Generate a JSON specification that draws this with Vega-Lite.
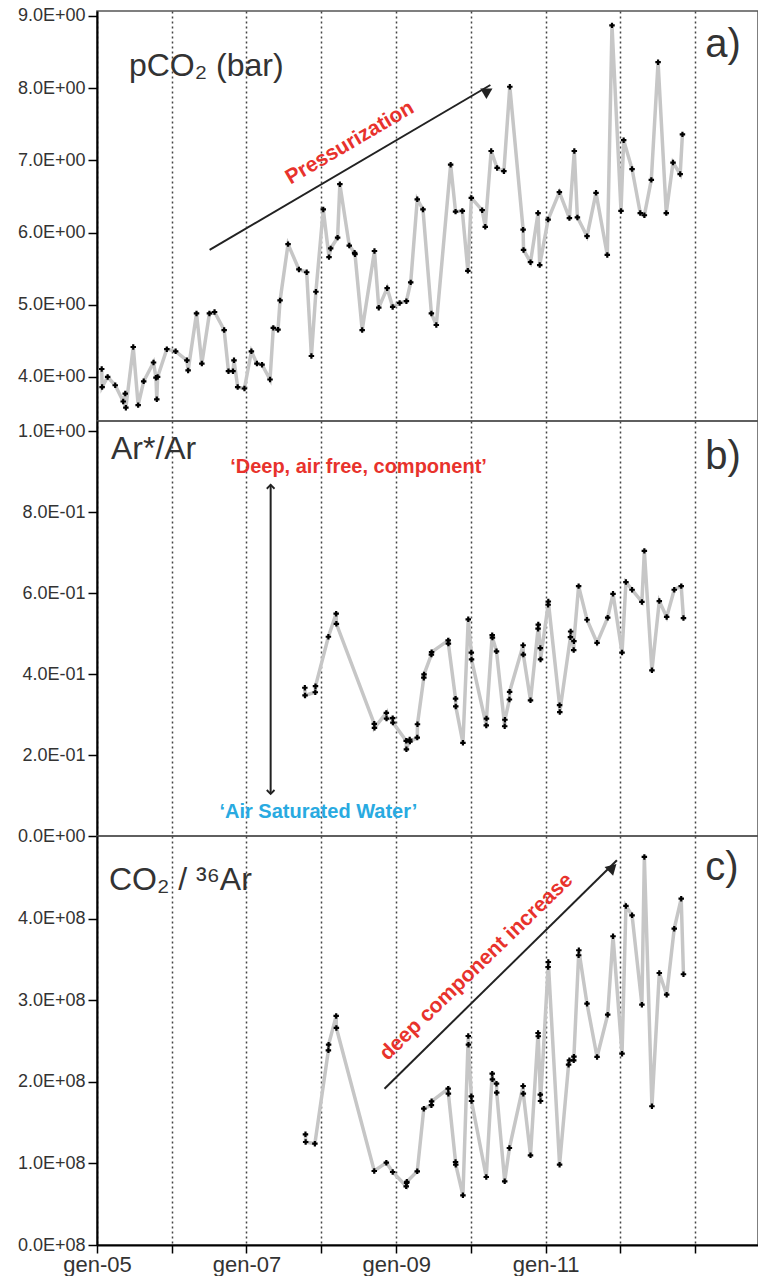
{
  "$schema": "https://vega.github.io/schema/vega-lite/v6.json",
  "padding": {"left": 16, "top": 6, "right": 0, "bottom": 0},
  "spacing": 0,
  "bounds": "flush",
  "background": "white",
  "config": {
    "font": "Liberation Sans",
    "view": {"stroke": "#555", "strokeWidth": 1.5},
    "axisY": {"domainColor": "black", "domainWidth": 2, "tickColor": "black", "tickWidth": 1.5, "tickSize": 9, "labelFontSize": 18, "labelColor": "#333", "labelPadding": 3, "grid": false, "title": null, "minExtent": 80, "maxExtent": 80},
    "axisX": {"grid": true, "gridDash": [2, 3], "gridColor": "#444", "gridWidth": 1.5, "title": null}
  },
  "datasets": {
    "pco2": [
      {"date": "2005-01-24", "value": 4.11}, {"date": "2005-01-26", "value": 3.86}, {"date": "2005-02-22", "value": 4.0}, {"date": "2005-03-31", "value": 3.885},
      {"date": "2005-05-09", "value": 3.66}, {"date": "2005-05-19", "value": 3.77}, {"date": "2005-05-22", "value": 3.575}, {"date": "2005-06-27", "value": 4.415},
      {"date": "2005-07-21", "value": 3.61}, {"date": "2005-08-17", "value": 3.94}, {"date": "2005-10-04", "value": 4.2}, {"date": "2005-10-16", "value": 3.99},
      {"date": "2005-10-20", "value": 3.69}, {"date": "2005-10-24", "value": 4.0}, {"date": "2005-12-08", "value": 4.385}, {"date": "2006-01-20", "value": 4.355},
      {"date": "2006-03-16", "value": 4.23}, {"date": "2006-03-22", "value": 4.09}, {"date": "2006-05-02", "value": 4.88}, {"date": "2006-05-28", "value": 4.185},
      {"date": "2006-07-04", "value": 4.88}, {"date": "2006-07-29", "value": 4.9}, {"date": "2006-09-14", "value": 4.65}, {"date": "2006-10-05", "value": 4.08},
      {"date": "2006-10-27", "value": 4.08}, {"date": "2006-11-01", "value": 4.23}, {"date": "2006-11-19", "value": 3.86}, {"date": "2006-12-22", "value": 3.84},
      {"date": "2007-01-25", "value": 4.355}, {"date": "2007-02-21", "value": 4.185}, {"date": "2007-03-18", "value": 4.17}, {"date": "2007-04-26", "value": 3.965},
      {"date": "2007-05-12", "value": 4.68}, {"date": "2007-06-04", "value": 4.655}, {"date": "2007-06-14", "value": 5.06}, {"date": "2007-07-23", "value": 5.84},
      {"date": "2007-09-14", "value": 5.49}, {"date": "2007-10-22", "value": 5.45}, {"date": "2007-11-14", "value": 4.29}, {"date": "2007-12-06", "value": 5.18},
      {"date": "2008-01-11", "value": 6.32}, {"date": "2008-02-08", "value": 5.66}, {"date": "2008-02-16", "value": 5.78}, {"date": "2008-03-21", "value": 5.93},
      {"date": "2008-04-01", "value": 6.67}, {"date": "2008-05-17", "value": 5.82}, {"date": "2008-06-12", "value": 5.72}, {"date": "2008-06-14", "value": 5.7},
      {"date": "2008-07-19", "value": 4.65}, {"date": "2008-09-17", "value": 5.745}, {"date": "2008-10-08", "value": 4.96}, {"date": "2008-11-18", "value": 5.23},
      {"date": "2008-12-15", "value": 4.97}, {"date": "2009-01-18", "value": 5.025}, {"date": "2009-02-20", "value": 5.05}, {"date": "2009-03-13", "value": 5.31},
      {"date": "2009-04-14", "value": 6.46}, {"date": "2009-05-12", "value": 6.32}, {"date": "2009-06-22", "value": 4.88}, {"date": "2009-07-16", "value": 4.72},
      {"date": "2009-09-24", "value": 6.94}, {"date": "2009-10-18", "value": 6.29}, {"date": "2009-11-20", "value": 6.3}, {"date": "2009-12-17", "value": 5.47},
      {"date": "2010-01-03", "value": 6.48}, {"date": "2010-02-25", "value": 6.31}, {"date": "2010-03-12", "value": 6.08}, {"date": "2010-04-10", "value": 7.13},
      {"date": "2010-05-09", "value": 6.895}, {"date": "2010-06-11", "value": 6.85}, {"date": "2010-07-10", "value": 8.02}, {"date": "2010-09-13", "value": 6.04},
      {"date": "2010-09-15", "value": 5.76}, {"date": "2010-10-19", "value": 5.59}, {"date": "2010-11-25", "value": 6.27}, {"date": "2010-12-03", "value": 5.55},
      {"date": "2011-01-13", "value": 6.18}, {"date": "2011-03-09", "value": 6.56}, {"date": "2011-04-27", "value": 6.2}, {"date": "2011-05-21", "value": 7.13},
      {"date": "2011-06-05", "value": 6.21}, {"date": "2011-07-22", "value": 5.95}, {"date": "2011-09-04", "value": 6.55}, {"date": "2011-10-29", "value": 5.69},
      {"date": "2011-11-21", "value": 8.87}, {"date": "2012-01-04", "value": 6.3}, {"date": "2012-01-17", "value": 7.28}, {"date": "2012-02-27", "value": 6.88},
      {"date": "2012-04-07", "value": 6.27}, {"date": "2012-04-27", "value": 6.24}, {"date": "2012-05-31", "value": 6.73}, {"date": "2012-07-03", "value": 8.36},
      {"date": "2012-08-12", "value": 6.27}, {"date": "2012-09-14", "value": 6.97}, {"date": "2012-10-19", "value": 6.81}, {"date": "2012-10-30", "value": 7.36}
    ],
    "arratio": [
      {"date": "2007-10-13", "value": 0.366}, {"date": "2007-10-14", "value": 0.347}, {"date": "2007-12-03", "value": 0.355}, {"date": "2007-12-04", "value": 0.37},
      {"date": "2008-02-05", "value": 0.492}, {"date": "2008-03-14", "value": 0.549}, {"date": "2008-03-15", "value": 0.524}, {"date": "2008-09-16", "value": 0.277},
      {"date": "2008-09-17", "value": 0.267}, {"date": "2008-11-14", "value": 0.304}, {"date": "2008-11-15", "value": 0.29}, {"date": "2008-12-15", "value": 0.291},
      {"date": "2008-12-16", "value": 0.28}, {"date": "2009-02-19", "value": 0.235}, {"date": "2009-02-20", "value": 0.214}, {"date": "2009-03-08", "value": 0.238},
      {"date": "2009-03-09", "value": 0.233}, {"date": "2009-04-14", "value": 0.243}, {"date": "2009-04-15", "value": 0.276}, {"date": "2009-05-16", "value": 0.391},
      {"date": "2009-05-17", "value": 0.399}, {"date": "2009-06-22", "value": 0.448}, {"date": "2009-06-23", "value": 0.454}, {"date": "2009-09-12", "value": 0.483},
      {"date": "2009-09-13", "value": 0.475}, {"date": "2009-10-18", "value": 0.339}, {"date": "2009-10-19", "value": 0.32}, {"date": "2009-11-23", "value": 0.23},
      {"date": "2009-12-19", "value": 0.535}, {"date": "2010-01-03", "value": 0.453}, {"date": "2010-01-04", "value": 0.436}, {"date": "2010-03-17", "value": 0.273},
      {"date": "2010-03-18", "value": 0.29}, {"date": "2010-04-15", "value": 0.496}, {"date": "2010-04-16", "value": 0.49}, {"date": "2010-05-06", "value": 0.456},
      {"date": "2010-06-15", "value": 0.271}, {"date": "2010-06-16", "value": 0.287}, {"date": "2010-07-08", "value": 0.337}, {"date": "2010-07-09", "value": 0.356},
      {"date": "2010-09-13", "value": 0.471}, {"date": "2010-09-14", "value": 0.448}, {"date": "2010-10-19", "value": 0.335}, {"date": "2010-11-25", "value": 0.512},
      {"date": "2010-11-26", "value": 0.522}, {"date": "2010-12-06", "value": 0.464}, {"date": "2010-12-07", "value": 0.436}, {"date": "2011-01-13", "value": 0.571},
      {"date": "2011-01-14", "value": 0.579}, {"date": "2011-03-10", "value": 0.323}, {"date": "2011-03-11", "value": 0.306}, {"date": "2011-05-02", "value": 0.491},
      {"date": "2011-05-03", "value": 0.505}, {"date": "2011-05-18", "value": 0.459}, {"date": "2011-05-19", "value": 0.481}, {"date": "2011-06-11", "value": 0.617},
      {"date": "2011-07-22", "value": 0.534}, {"date": "2011-09-09", "value": 0.477}, {"date": "2011-10-31", "value": 0.539}, {"date": "2011-11-26", "value": 0.598},
      {"date": "2012-01-09", "value": 0.453}, {"date": "2012-01-28", "value": 0.627}, {"date": "2012-02-27", "value": 0.608}, {"date": "2012-04-15", "value": 0.578},
      {"date": "2012-04-27", "value": 0.704}, {"date": "2012-06-03", "value": 0.409}, {"date": "2012-07-09", "value": 0.58}, {"date": "2012-08-14", "value": 0.541},
      {"date": "2012-09-20", "value": 0.608}, {"date": "2012-10-24", "value": 0.617}, {"date": "2012-11-04", "value": 0.538}
    ],
    "co2ar": [
      {"date": "2007-10-16", "value": 1.358e8}, {"date": "2007-10-17", "value": 1.264e8}, {"date": "2007-12-01", "value": 1.243e8}, {"date": "2008-02-05", "value": 2.389e8},
      {"date": "2008-02-06", "value": 2.458e8}, {"date": "2008-03-14", "value": 2.81e8}, {"date": "2008-03-15", "value": 2.663e8}, {"date": "2008-09-16", "value": 0.908e8},
      {"date": "2008-11-14", "value": 1.01e8}, {"date": "2008-12-15", "value": 0.896e8}, {"date": "2009-02-19", "value": 0.72e8}, {"date": "2009-02-21", "value": 0.761e8},
      {"date": "2009-02-22", "value": 0.775e8}, {"date": "2009-04-14", "value": 0.904e8}, {"date": "2009-05-16", "value": 1.673e8}, {"date": "2009-06-22", "value": 1.715e8},
      {"date": "2009-06-23", "value": 1.763e8}, {"date": "2009-09-12", "value": 1.918e8}, {"date": "2009-09-13", "value": 1.857e8}, {"date": "2009-10-18", "value": 1.018e8},
      {"date": "2009-10-19", "value": 0.985e8}, {"date": "2009-11-23", "value": 0.609e8}, {"date": "2009-12-19", "value": 2.564e8}, {"date": "2009-12-20", "value": 2.458e8},
      {"date": "2010-01-03", "value": 1.824e8}, {"date": "2010-01-04", "value": 1.767e8}, {"date": "2010-03-17", "value": 0.834e8}, {"date": "2010-04-15", "value": 2.102e8},
      {"date": "2010-04-16", "value": 2.033e8}, {"date": "2010-05-06", "value": 1.979e8}, {"date": "2010-05-07", "value": 1.869e8}, {"date": "2010-06-15", "value": 0.781e8},
      {"date": "2010-07-08", "value": 1.19e8}, {"date": "2010-09-13", "value": 1.951e8}, {"date": "2010-09-14", "value": 1.857e8}, {"date": "2010-10-19", "value": 1.1e8},
      {"date": "2010-11-25", "value": 2.601e8}, {"date": "2010-11-26", "value": 2.561e8}, {"date": "2010-12-06", "value": 1.844e8}, {"date": "2010-12-07", "value": 1.767e8},
      {"date": "2011-01-13", "value": 3.411e8}, {"date": "2011-01-14", "value": 3.472e8}, {"date": "2011-03-10", "value": 0.985e8}, {"date": "2011-04-23", "value": 2.212e8},
      {"date": "2011-04-27", "value": 2.266e8}, {"date": "2011-05-18", "value": 2.266e8}, {"date": "2011-05-19", "value": 2.31e8}, {"date": "2011-06-11", "value": 3.555e8},
      {"date": "2011-06-12", "value": 3.616e8}, {"date": "2011-07-22", "value": 2.961e8}, {"date": "2011-09-09", "value": 2.307e8}, {"date": "2011-10-31", "value": 2.826e8},
      {"date": "2011-11-26", "value": 3.788e8}, {"date": "2012-01-09", "value": 2.347e8}, {"date": "2012-01-28", "value": 4.16e8}, {"date": "2012-02-27", "value": 4.045e8},
      {"date": "2012-04-15", "value": 2.949e8}, {"date": "2012-04-27", "value": 4.761e8}, {"date": "2012-06-03", "value": 1.702e8}, {"date": "2012-07-09", "value": 3.337e8},
      {"date": "2012-08-14", "value": 3.071e8}, {"date": "2012-09-20", "value": 3.881e8}, {"date": "2012-10-24", "value": 4.249e8}, {"date": "2012-11-04", "value": 3.322e8}
    ]
  },
  "vconcat": [
    {
      "width": 661,
      "height": 410,
      "layer": [
        {
          "data": {"name": "pco2"},
          "mark": {"type": "line", "color": "#c6c6c6", "strokeWidth": 3.5},
          "encoding": {
            "x": {"field": "date", "type": "temporal",
              "scale": {"type": "utc", "domain": [{"year": 2005, "month": 1, "date": 1, "utc": true}, {"year": 2013, "month": 11, "date": 3, "utc": true}]},
              "axis": {"values": [{"year": 2005, "utc": true}, {"year": 2006, "utc": true}, {"year": 2007, "utc": true}, {"year": 2008, "utc": true}, {"year": 2009, "utc": true}, {"year": 2010, "utc": true}, {"year": 2011, "utc": true}, {"year": 2012, "utc": true}, {"year": 2013, "utc": true}], "labels": false, "ticks": false, "domain": false}},
            "y": {"field": "value", "type": "quantitative",
              "scale": {"domain": [3.39, 9.069], "nice": false, "zero": false},
              "axis": {"values": [4, 5, 6, 7, 8, 9], "labelExpr": "format(datum.value, '.1f') + 'E+00'"}}
          }
        },
        {
          "data": {"name": "pco2"},
          "mark": {"type": "point", "shape": "cross", "filled": true, "color": "black", "size": 30, "opacity": 1},
          "encoding": {"x": {"field": "date", "type": "temporal"}, "y": {"field": "value", "type": "quantitative"}}
        },
        {
          "data": {"values": [{"date": "2006-07-05", "value": 5.76, "date2": "2010-04-06", "value2": 8.044}], "format": {"parse": {"date": "date", "date2": "date"}}},
          "mark": {"type": "rule", "color": "#222", "strokeWidth": 2},
          "encoding": {"x": {"field": "date", "type": "temporal"}, "y": {"field": "value", "type": "quantitative"}, "x2": {"field": "date2"}, "y2": {"field": "value2"}}
        },
        {
          "data": {"values": [{"date": "2010-03-25", "value": 7.96}], "format": {"parse": {"date": "date"}}},
          "mark": {"type": "point", "shape": "triangle-up", "filled": true, "color": "#222", "size": 150, "opacity": 1, "angle": 59.6},
          "encoding": {"x": {"field": "date", "type": "temporal"}, "y": {"field": "value", "type": "quantitative"}}
        },
        {
          "data": {"values": [{"date": "2008-05-20", "value": 7.24, "label": "Pressurization"}], "format": {"parse": {"date": "date"}}},
          "mark": {"type": "text", "color": "#e8322c", "fontSize": 21, "fontWeight": "bold", "angle": -30.4, "align": "center", "baseline": "middle"},
          "encoding": {"x": {"field": "date", "type": "temporal"}, "y": {"field": "value", "type": "quantitative"}, "text": {"field": "label"}}
        },
        {
          "data": {"values": [{"date": "2005-06-06", "value": 8.169, "label": "pCO₂ (bar)", "size": "big"}, {"date": "2013-02-18", "value": 8.43, "label": "a)", "size": "panel"}], "format": {"parse": {"date": "date"}}},
          "mark": {"type": "text", "color": "#333", "align": "left", "baseline": "alphabetic"},
          "encoding": {"x": {"field": "date", "type": "temporal"}, "y": {"field": "value", "type": "quantitative"}, "text": {"field": "label"},
            "size": {"field": "size", "type": "nominal", "scale": {"domain": ["big", "panel"], "range": [32, 40]}, "legend": null}}
        }
      ]
    },
    {
      "width": 661,
      "height": 415,
      "layer": [
        {
          "data": {"name": "arratio"},
          "mark": {"type": "line", "color": "#c6c6c6", "strokeWidth": 3.5},
          "encoding": {
            "x": {"field": "date", "type": "temporal",
              "scale": {"type": "utc", "domain": [{"year": 2005, "month": 1, "date": 1, "utc": true}, {"year": 2013, "month": 11, "date": 3, "utc": true}]},
              "axis": {"values": [{"year": 2005, "utc": true}, {"year": 2006, "utc": true}, {"year": 2007, "utc": true}, {"year": 2008, "utc": true}, {"year": 2009, "utc": true}, {"year": 2010, "utc": true}, {"year": 2011, "utc": true}, {"year": 2012, "utc": true}, {"year": 2013, "utc": true}], "labels": false, "ticks": false, "domain": false}},
            "y": {"field": "value", "type": "quantitative",
              "scale": {"domain": [0, 1.0247], "nice": false, "zero": false},
              "axis": {"values": [0, 0.2, 0.4, 0.6, 0.8, 1.0], "labelExpr": "datum.value == 0 ? '0.0E+00' : (datum.value > 0.95 ? '1.0E+00' : format(datum.value * 10, '.1f') + 'E-01')"}}
          }
        },
        {
          "data": {"name": "arratio"},
          "mark": {"type": "point", "shape": "cross", "filled": true, "color": "black", "size": 30, "opacity": 1},
          "encoding": {"x": {"field": "date", "type": "temporal"}, "y": {"field": "value", "type": "quantitative"}}
        },
        {
          "data": {"values": [{"date": "2007-04-29", "value": 0.104, "date2": "2007-04-29", "value2": 0.867}], "format": {"parse": {"date": "date", "date2": "date"}}},
          "mark": {"type": "rule", "color": "#222", "strokeWidth": 2},
          "encoding": {"x": {"field": "date", "type": "temporal"}, "y": {"field": "value", "type": "quantitative"}, "x2": {"field": "date2"}, "y2": {"field": "value2"}}
        },
        {
          "data": {"values": [{"date": "2007-04-29", "value": 0.867, "dir": "up"}, {"date": "2007-04-29", "value": 0.104, "dir": "down"}], "format": {"parse": {"date": "date"}}},
          "mark": {"type": "point", "filled": false, "color": "#222", "strokeWidth": 1.8, "size": 60, "opacity": 1},
          "encoding": {"x": {"field": "date", "type": "temporal"}, "y": {"field": "value", "type": "quantitative"},
            "shape": {"field": "dir", "type": "nominal", "scale": {"domain": ["up", "down"], "range": ["M -1 1 L 0 0 L 1 1", "M -1 -1 L 0 0 L 1 -1"]}, "legend": null}}
        },
        {
          "data": {"values": [{"date": "2008-07-01", "value": 0.911, "label": "‘Deep, air free, component’", "kind": "deep"}, {"date": "2007-12-18", "value": 0.059, "label": "‘Air Saturated Water’", "kind": "asw"}], "format": {"parse": {"date": "date"}}},
          "mark": {"type": "text", "fontSize": 20, "fontWeight": "bold", "align": "center", "baseline": "middle"},
          "encoding": {"x": {"field": "date", "type": "temporal"}, "y": {"field": "value", "type": "quantitative"}, "text": {"field": "label"},
            "color": {"field": "kind", "type": "nominal", "scale": {"domain": ["deep", "asw"], "range": ["#e8322c", "#29aae1"]}, "legend": null}}
        },
        {
          "data": {"values": [{"date": "2005-03-10", "value": 0.932, "label": "Ar*/Ar", "size": "big"}, {"date": "2013-02-18", "value": 0.907, "label": "b)", "size": "panel"}], "format": {"parse": {"date": "date"}}},
          "mark": {"type": "text", "color": "#333", "align": "left", "baseline": "alphabetic"},
          "encoding": {"x": {"field": "date", "type": "temporal"}, "y": {"field": "value", "type": "quantitative"}, "text": {"field": "label"},
            "size": {"field": "size", "type": "nominal", "scale": {"domain": ["big", "panel"], "range": [32, 40]}, "legend": null}}
        }
      ]
    },
    {
      "width": 661,
      "height": 409,
      "layer": [
        {
          "data": {"name": "co2ar"},
          "mark": {"type": "line", "color": "#c6c6c6", "strokeWidth": 3.5},
          "encoding": {
            "x": {"field": "date", "type": "temporal",
              "scale": {"type": "utc", "domain": [{"year": 2005, "month": 1, "date": 1, "utc": true}, {"year": 2013, "month": 11, "date": 3, "utc": true}]},
              "axis": {"values": [{"year": 2005, "utc": true}, {"year": 2006, "utc": true}, {"year": 2007, "utc": true}, {"year": 2008, "utc": true}, {"year": 2009, "utc": true}, {"year": 2010, "utc": true}, {"year": 2011, "utc": true}, {"year": 2012, "utc": true}, {"year": 2013, "utc": true}],
                "labelExpr": "utcyear(datum.value) % 2 == 1 && utcyear(datum.value) < 2012 ? 'gen-' + utcFormat(datum.value, '%y') : ''",
                "labelFontSize": 22, "labelColor": "#333", "labelPadding": 1, "ticks": true, "tickSize": 8, "tickColor": "black", "tickWidth": 1.5, "domain": true, "domainColor": "black", "domainWidth": 2, "labelFlush": false, "labelOverlap": false}},
            "y": {"field": "value", "type": "quantitative",
              "scale": {"domain": [0, 5.018e8], "nice": false, "zero": false},
              "axis": {"values": [0, 1e8, 2e8, 3e8, 4e8], "labelExpr": "format(datum.value / 1e8, '.1f') + 'E+08'"}}
          }
        },
        {
          "data": {"name": "co2ar"},
          "mark": {"type": "point", "shape": "cross", "filled": true, "color": "black", "size": 30, "opacity": 1},
          "encoding": {"x": {"field": "date", "type": "temporal"}, "y": {"field": "value", "type": "quantitative"}}
        },
        {
          "data": {"values": [{"date": "2008-11-05", "value": 1.918e8, "date2": "2011-12-15", "value2": 4.72e8}], "format": {"parse": {"date": "date", "date2": "date"}}},
          "mark": {"type": "rule", "color": "#222", "strokeWidth": 2},
          "encoding": {"x": {"field": "date", "type": "temporal"}, "y": {"field": "value", "type": "quantitative"}, "x2": {"field": "date2"}, "y2": {"field": "value2"}}
        },
        {
          "data": {"values": [{"date": "2011-11-24", "value": 4.63e8}], "format": {"parse": {"date": "date"}}},
          "mark": {"type": "point", "shape": "triangle-up", "filled": true, "color": "#222", "size": 150, "opacity": 1, "angle": 45.5},
          "encoding": {"x": {"field": "date", "type": "temporal"}, "y": {"field": "value", "type": "quantitative"}}
        },
        {
          "data": {"values": [{"date": "2010-01-28", "value": 3.41e8, "label": "deep component increase"}], "format": {"parse": {"date": "date"}}},
          "mark": {"type": "text", "color": "#e8322c", "fontSize": 21, "fontWeight": "bold", "angle": -44, "align": "center", "baseline": "middle"},
          "encoding": {"x": {"field": "date", "type": "temporal"}, "y": {"field": "value", "type": "quantitative"}, "text": {"field": "label"}}
        },
        {
          "data": {"values": [{"date": "2005-02-28", "value": 4.352e8, "label": "CO₂ / ³⁶Ar", "size": "big"}, {"date": "2013-02-18", "value": 4.475e8, "label": "c)", "size": "panel"}], "format": {"parse": {"date": "date"}}},
          "mark": {"type": "text", "color": "#333", "align": "left", "baseline": "alphabetic"},
          "encoding": {"x": {"field": "date", "type": "temporal"}, "y": {"field": "value", "type": "quantitative"}, "text": {"field": "label"},
            "size": {"field": "size", "type": "nominal", "scale": {"domain": ["big", "panel"], "range": [32, 40]}, "legend": null}}
        }
      ]
    }
  ]
}
